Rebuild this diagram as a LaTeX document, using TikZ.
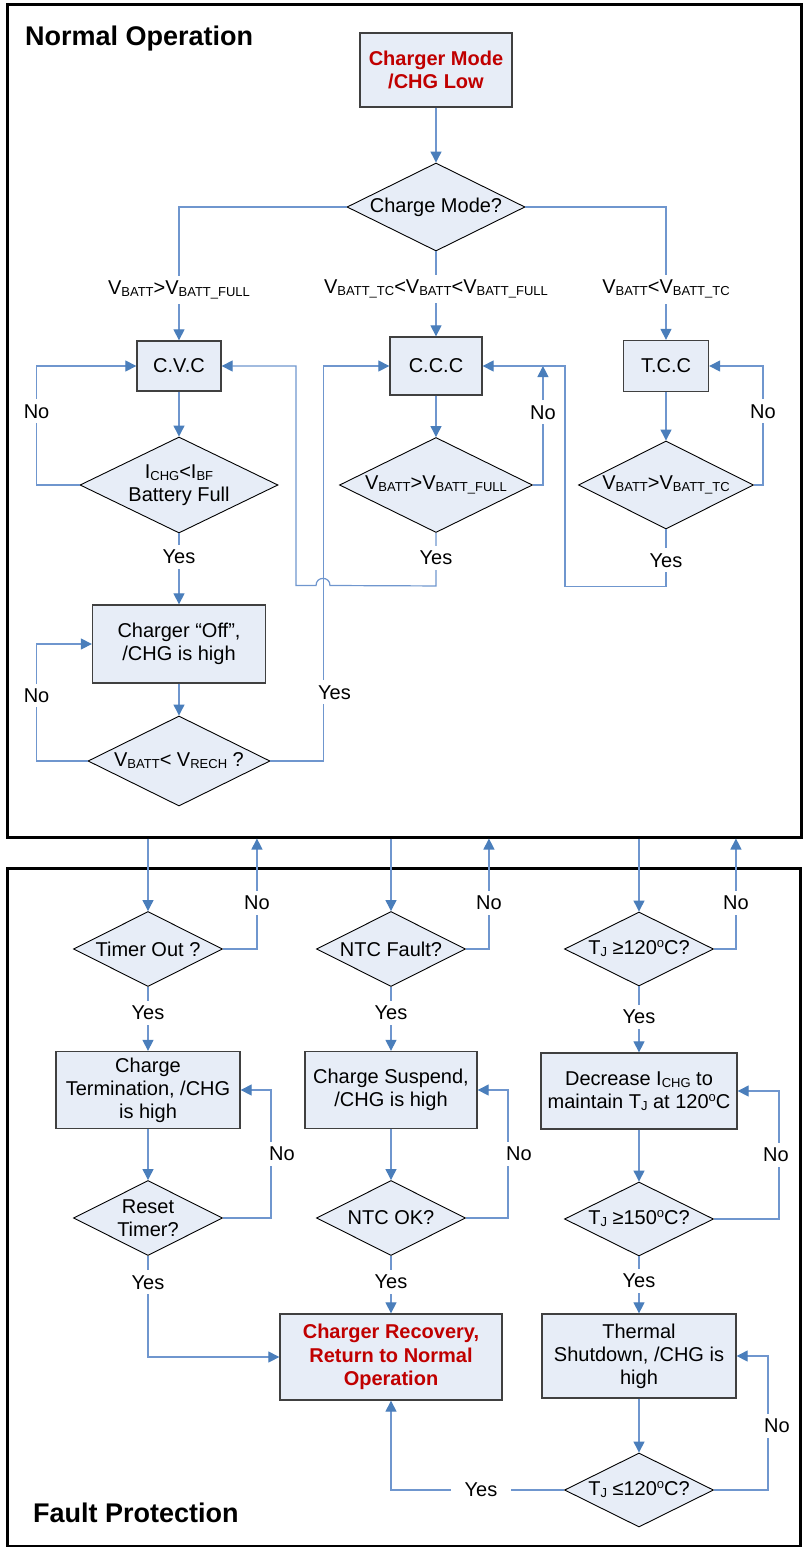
\documentclass[tikz,border=0pt]{standalone}
\usepackage{fontspec}
\setmainfont{Liberation Sans}
\usetikzlibrary{arrows.meta, shapes.geometric}
\definecolor{stepFill}{HTML}{E7EDF7}
\definecolor{stepLine}{HTML}{404040}
\definecolor{wireLine}{HTML}{6F96CE}
\definecolor{wireTip}{HTML}{4A7EBB}
\definecolor{alert}{HTML}{C00000}
\newcommand{\subtx}[1]{\raisebox{-2pt}{\fontsize{13}{13}\selectfont #1}}
\newcommand{\suptx}[1]{\raisebox{7pt}{\fontsize{13}{13}\selectfont #1}}

\begin{document}
\begin{tikzpicture}[
  x=1pt, y=-1pt,
  font=\fontsize{20}{23}\selectfont,
  title/.style={font=\fontsize{27}{30}\selectfont\bfseries, anchor=base west, inner sep=0pt},
  frame/.style={draw=black, line width=3pt, inner sep=0pt},
  stepbox/.style={draw=stepLine, fill=stepFill, line width=1.3pt, align=center, inner sep=0pt},
  decide/.style={diamond, draw=black, fill=stepFill, line width=0.9pt, align=center,
    inner xsep=-120pt, inner ysep=0pt},
  hot/.style={text=alert, font=\fontsize{20}{23.5}\selectfont\bfseries},
  lbl/.style={fill=white, inner xsep=3pt, inner ysep=5pt},
  flow/.style={draw=wireLine, line width=1.2pt, -{Triangle[length=11pt, width=11pt, color=wireTip]}}
]
\useasboundingbox (0,0) rectangle (804,1547);

% =========================================================
% FRAMES
% =========================================================

\node[frame, minimum width=794, minimum height=833] (normal) at (404,420.5) {};
\node[frame, minimum width=793, minimum height=678] (fault) at (403.5,1207) {};

\node[title] (normTitle) at (25,45) {Normal Operation};
\node[title] (faultTitle) at (33,1522) {Fault Protection};

% =========================================================
% NORMAL OPERATION
% =========================================================

\node[stepbox, hot, minimum width=152, minimum height=74] (modeBox) at (436,70)
{Charger Mode\\/CHG Low};

\node[decide, minimum width=178, minimum height=88] (chkMode) at (436,207) {Charge Mode?};

\node[stepbox, minimum width=84, minimum height=50] (cvc) at (179,366) {C.V.C};
\node[stepbox, minimum width=92, minimum height=58] (ccc) at (436,366) {C.C.C};
\node[stepbox, minimum width=85, minimum height=51] (tcc) at (666,366) {T.C.C};

\node[decide, minimum width=198, minimum height=96] (batFull) at (179,485)
{I\subtx{CHG}<I\subtx{BF}\\Battery Full};
\node[decide, minimum width=193, minimum height=95] (vFull) at (436,485)
{V\subtx{BATT}>V\subtx{BATT\_FULL}};
\node[decide, minimum width=175, minimum height=88] (vTc) at (666,485)
{V\subtx{BATT}>V\subtx{BATT\_TC}};

\node[stepbox, minimum width=173, minimum height=78] (chgOff) at (179,644)
{Charger “Off”,\\/CHG is high};
\node[decide, minimum width=182, minimum height=90] (rech) at (179,761)
{V\subtx{BATT}< V\subtx{RECH} ?};

% mode selection
\draw[flow] (modeBox.south) -- (chkMode.north);
\draw[flow] (chkMode.west) -| node[lbl, pos=0.81] {V\subtx{BATT}>V\subtx{BATT\_FULL}} (cvc.north);
\draw[flow] (chkMode.south) -- node[lbl, pos=0.44]
  {V\subtx{BATT\_TC}<V\subtx{BATT}<V\subtx{BATT\_FULL}} (ccc.north);
\draw[flow] (chkMode.east) -| node[lbl, pos=0.81] {V\subtx{BATT}<V\subtx{BATT\_TC}} (tcc.north);

\draw[flow] (cvc.south) -- (batFull.north);
\draw[flow] (ccc.south) -- (vFull.north);
\draw[flow] (tcc.south) -- (vTc.north);

% loops back on No
\draw[flow] (batFull.west) -- ++(-43,0) |- node[lbl, pos=0.31] {No} (cvc.west);
\draw[flow] (vFull.east) -- ++(10,0) coordinate (cccNo)
  -- node[lbl, pos=0.61] {No} (cccNo |- ccc.east);
\draw[flow] (vTc.east) -- ++(9,0) |- node[lbl, pos=0.31] {No} (tcc.east);

% Yes paths
\draw[flow] (batFull.south) -- node[lbl, pos=0.33] {Yes} (chgOff.north);
\draw[flow] (vFull.south) -- node[lbl, pos=0.47] {Yes} ++(0,53)
  -- (330,585.5) .. controls (330,576) and (316,576) .. (316,585.5)
  -- (296,585.5) |- (cvc.east);
\draw[flow] (vTc.south) -- node[lbl, pos=0.54] {Yes} ++(0,57) -- ++(-101,0) |- (ccc.east);

% recharge check
\draw[flow] (chgOff.south) -- (rech.north);
\draw[flow] (rech.west) -- ++(-51,0) |- node[lbl, pos=0.28] {No} (chgOff.west);
\draw[flow] (rech.east) -- ++(53,0) |- node[lbl, pos=0.087, xshift=11] {Yes} (ccc.west);

% =========================================================
% FAULT PROTECTION
% =========================================================

\node[decide, minimum width=149, minimum height=75] (timer) at (148,949) {Timer Out ?};
\node[decide, minimum width=149, minimum height=75] (ntc) at (391,949) {NTC Fault?};
\node[decide, minimum width=149, minimum height=74] (tjHigh) at (639,949)
{T\subtx{J} ≥120\suptx{o}C?};

\node[stepbox, minimum width=184, minimum height=77] (chgTerm) at (148,1090)
{Charge\\Termination, /CHG\\is high};
\node[stepbox, minimum width=172, minimum height=77] (chgSusp) at (391,1090)
{Charge Suspend,\\/CHG is high};
\node[stepbox, minimum width=196, minimum height=76] (decr) at (639,1091)
{Decrease I\subtx{CHG} to\\maintain T\subtx{J} at 120\suptx{o}C};

\node[decide, minimum width=149, minimum height=75] (reset) at (148,1218) {Reset\\Timer?};
\node[decide, minimum width=149, minimum height=75] (ntcOk) at (391,1218) {NTC OK?};
\node[decide, minimum width=149, minimum height=74] (tjMax) at (639,1219)
{T\subtx{J} ≥150\suptx{o}C?};

\node[stepbox, hot, minimum width=222, minimum height=86] (recov) at (391,1357)
{Charger Recovery,\\Return to Normal\\Operation};
\node[stepbox, minimum width=194, minimum height=84] (therm) at (639,1356)
{Thermal\\Shutdown, /CHG is\\high};
\node[decide, minimum width=149, minimum height=74] (tjLow) at (639,1490)
{T\subtx{J} ≤120\suptx{o}C?};

% timer column
\draw[flow] (timer.north |- normal.south) -- (timer.north);
\draw[flow] (timer.east) -- ++(34,0) coordinate (timerNo)
  -- node[lbl, pos=0.42] {No} (timerNo |- normal.south);
\draw[flow] (timer.south) -- node[lbl, pos=0.41] {Yes} (chgTerm.north);
\draw[flow] (chgTerm.south) -- (reset.north);
\draw[flow] (reset.east) -- ++(48,0) |- node[lbl, pos=0.25, xshift=11] {No} (chgTerm.east);
\draw[flow] (reset.south) |- node[lbl, pos=0.13] {Yes} (recov.west);

% NTC column
\draw[flow] (ntc.north |- normal.south) -- (ntc.north);
\draw[flow] (ntc.east) -- ++(23,0) coordinate (ntcNo)
  -- node[lbl, pos=0.42] {No} (ntcNo |- normal.south);
\draw[flow] (ntc.south) -- node[lbl, pos=0.41] {Yes} (chgSusp.north);
\draw[flow] (chgSusp.south) -- (ntcOk.north);
\draw[flow] (ntcOk.east) -- ++(42,0) |- node[lbl, pos=0.25, xshift=11] {No} (chgSusp.east);
\draw[flow] (ntcOk.south) -- node[lbl, pos=0.45] {Yes} (recov.north);

% thermal column
\draw[flow] (tjHigh.north |- normal.south) -- (tjHigh.north);
\draw[flow] (tjHigh.east) -- ++(22,0) coordinate (tjNo)
  -- node[lbl, pos=0.42] {No} (tjNo |- normal.south);
\draw[flow] (tjHigh.south) -- node[lbl, pos=0.46] {Yes} (decr.north);
\draw[flow] (decr.south) -- (tjMax.north);
\draw[flow] (tjMax.east) -- ++(65,0) |- node[lbl, pos=0.25, xshift=-3] {No} (decr.east);
\draw[flow] (tjMax.south) -- node[lbl, pos=0.43] {Yes} (therm.north);
\draw[flow] (therm.south) -- (tjLow.north);
\draw[flow] (tjLow.east) -- ++(54,0) |- node[lbl, pos=0.24, xshift=9] {No} (therm.east);
\draw[flow] (tjLow.west) -| node[lbl, pos=0.24, inner xsep=14pt] {Yes} (recov.south);

\end{tikzpicture}
\end{document}
